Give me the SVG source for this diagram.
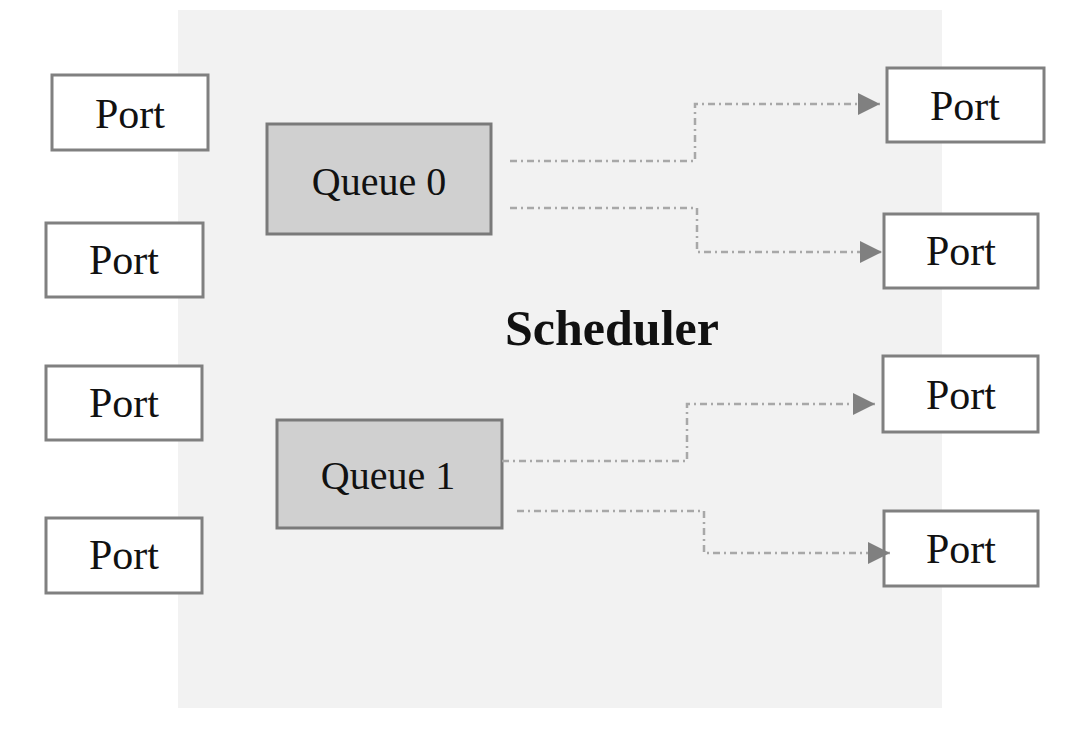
<svg xmlns="http://www.w3.org/2000/svg" width="1090" height="738" viewBox="0 0 1090 738">
<style>
.port rect{fill:#ffffff;stroke:#808080;stroke-width:3}
.queue rect{fill:#d0d0d0;stroke:#7a7a7a;stroke-width:3}
text{font-family:"Liberation Serif","DejaVu Serif",serif;fill:#111;text-anchor:middle}
.pt{font-size:42px}
.qt{font-size:40px}
.conn path{fill:none;stroke:#a8a8a8;stroke-width:2.5;stroke-dasharray:7 4 2 4}
</style>
<defs>
<marker id="arr" viewBox="0 0 22 22" refX="22" refY="11" markerWidth="22" markerHeight="22" markerUnits="userSpaceOnUse" orient="auto">
<path d="M0,0 L22,11 L0,22 z" fill="#808080"/>
</marker>
</defs>
<rect id="scheduler-bg" x="178" y="10" width="764" height="698" fill="#f2f2f2"/>
<g id="scheduler-label"><text x="612" y="345" style="font-size:50px;font-weight:bold">Scheduler</text></g>
<g id="port-l1" class="port"><rect x="52" y="75" width="156" height="75"/><text class="pt" x="130" y="128">Port</text></g>
<g id="port-l2" class="port"><rect x="46" y="223" width="157" height="74"/><text class="pt" x="124" y="274">Port</text></g>
<g id="port-l3" class="port"><rect x="46" y="366" width="156" height="74"/><text class="pt" x="124" y="417">Port</text></g>
<g id="port-l4" class="port"><rect x="46" y="518" width="156" height="75"/><text class="pt" x="124" y="569">Port</text></g>
<g id="queue0" class="queue"><rect x="267" y="124" width="224" height="110"/><text class="qt" x="379" y="195">Queue 0</text></g>
<g id="queue1" class="queue"><rect x="277" y="420" width="225" height="108"/><text class="qt" x="388" y="489">Queue 1</text></g>
<g id="port-r1" class="port"><rect x="887" y="68" width="157" height="74"/><text class="pt" x="965" y="120">Port</text></g>
<g id="port-r2" class="port"><rect x="884" y="214" width="154" height="74"/><text class="pt" x="961" y="265">Port</text></g>
<g id="port-r3" class="port"><rect x="883" y="356" width="155" height="76"/><text class="pt" x="961" y="409">Port</text></g>
<g id="port-r4" class="port"><rect x="884" y="511" width="154" height="75"/><text class="pt" x="961" y="563">Port</text></g>
<g id="connectors" class="conn">
<path d="M510,161 H695 V104 H880" marker-end="url(#arr)"/>
<path d="M510,208 H697 V252 H882" marker-end="url(#arr)"/>
<path d="M502,461 H687 V404 H875" marker-end="url(#arr)"/>
<path d="M517,511 H704 V553 H890" marker-end="url(#arr)"/>
</g>
</svg>
